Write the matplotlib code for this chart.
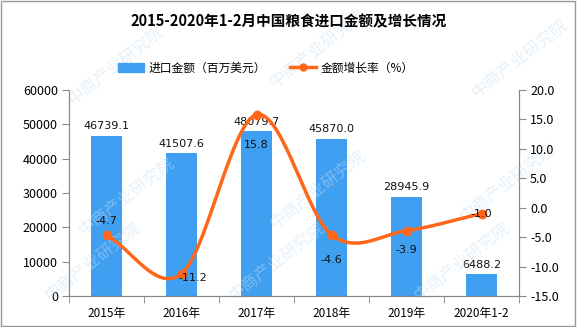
import numpy as np
import matplotlib
matplotlib.use("Agg")
import matplotlib.pyplot as plt
from matplotlib.patches import Rectangle, Patch
from matplotlib.lines import Line2D

plt.rcParams["font.family"] = ["Noto Sans CJK SC", "DejaVu Sans"]

categories = ["2015年", "2016年", "2017年", "2018年", "2019年", "2020年1-2"]
import_value = [46739.1, 41507.6, 48079.7, 45870.0, 28945.9, 6488.2]
growth_rate = [-4.7, -11.2, 15.8, -4.6, -3.9, -1.0]

# label offsets (points) for the growth-rate labels
rate_offsets = [(0, 10), (8, -3), (0, -22), (0, -18), (0, -14), (0, 0)]

BAR_C = "#3f9ff0"
LINE_C = "#ff661a"


def smooth(y, n=60):
    # cardinal (Catmull-Rom) spline through the points
    y = np.asarray(y, float)
    m = np.zeros_like(y)
    m[1:-1] = (y[2:] - y[:-2]) / 2
    m[0] = y[1] - y[0]
    m[-1] = y[-1] - y[-2]
    xs, ys = [], []
    for i in range(len(y) - 1):
        t = np.linspace(0, 1, n)
        h00 = 2 * t**3 - 3 * t**2 + 1
        h10 = t**3 - 2 * t**2 + t
        h01 = -2 * t**3 + 3 * t**2
        h11 = t**3 - t**2
        xs.append(i + t)
        ys.append(h00 * y[i] + h10 * m[i] + h01 * y[i + 1] + h11 * m[i + 1])
    return np.concatenate(xs), np.concatenate(ys)


fig = plt.figure(figsize=(5.77, 3.27), dpi=100)
ax = fig.add_axes([69 / 577, 1 - 296 / 327, 450 / 577, 206 / 327])
ax2 = ax.twinx()

x = np.arange(len(categories))
ax.bar(x, import_value, width=0.41, color=BAR_C, zorder=2)
for xi, v in zip(x, import_value):
    ax.text(xi, v + 1200, f"{v:.1f}", ha="center", va="bottom", fontsize=8,
            color="#111111", family=["DejaVu Sans"], zorder=5)

sx, sy = smooth(growth_rate)
ax2.plot(sx, sy, color=LINE_C, lw=2.5, zorder=3)
ax2.plot(x, growth_rate, "o", color=LINE_C, ms=6, zorder=4)
for xi, v, off in zip(x, growth_rate, rate_offsets):
    ax2.annotate(f"{v:.1f}", (xi, v), xytext=off, textcoords="offset points",
                 ha="center", va="center", fontsize=8, color="#111111",
                 family=["DejaVu Sans"], zorder=5)

ax.set_xlim(-0.5, len(categories) - 0.5)
ax.set_ylim(0, 60000)
ax.set_yticks(np.arange(0, 60001, 10000))
ax2.set_ylim(-15, 20)
ax2.set_yticks(np.arange(-15, 20.1, 5))
ax2.set_yticklabels([f"{t:.1f}" for t in np.arange(-15, 20.1, 5)])

ax.set_xticks(x)
ax.set_xticklabels(categories)
ax.set_xticks(np.arange(-0.5, len(categories), 1), minor=True)
ax.tick_params(axis="x", which="major", length=0, pad=8, labelsize=8.5)
ax.tick_params(axis="x", which="minor", length=5, color="#888888")
ax.tick_params(axis="y", length=5, color="#888888", labelsize=9, pad=3)
ax2.tick_params(axis="y", length=5, color="#888888", labelsize=9, pad=3)

for a in (ax, ax2):
    a.spines["top"].set_visible(False)
    for s in ("left", "right", "bottom"):
        a.spines[s].set_color("#888888")
ax2.set_zorder(ax.get_zorder() + 1)
ax2.patch.set_visible(False)

fig.text(0.5, 1 - 21 / 327, "2015-2020年1-2月中国粮食进口金额及增长情况",
         ha="center", va="center", fontsize=10.5, fontweight="bold")

handles = [Patch(color=BAR_C),
           Line2D([0], [0], color=LINE_C, lw=2.5, marker="o", ms=5)]
fig.legend(handles, ["进口金额（百万美元）", "金额增长率（%）"],
           loc="center left", bbox_to_anchor=(118 / 577, 1 - 68 / 327), ncol=2,
           frameon=False, fontsize=8.5, handlelength=2.2, columnspacing=2.0,
           handletextpad=0.4, borderaxespad=0, borderpad=0)

# faint watermark
for (wx, wy) in [(0.2, 0.8), (0.55, 0.85), (0.9, 0.82), (0.22, 0.4),
                 (0.55, 0.42), (0.88, 0.44), (0.16, 0.2), (0.48, 0.2), (0.8, 0.2)]:
    fig.text(wx, wy, "中商产业研究院", fontsize=12, color="#c8def0", alpha=0.45,
             rotation=38, ha="center", va="center", zorder=0)

fig.add_artist(Rectangle((0.002, 0.004), 0.995, 0.993, transform=fig.transFigure,
                         fill=False, edgecolor="#999999", lw=1))

fig.savefig("out.png", dpi=100)
